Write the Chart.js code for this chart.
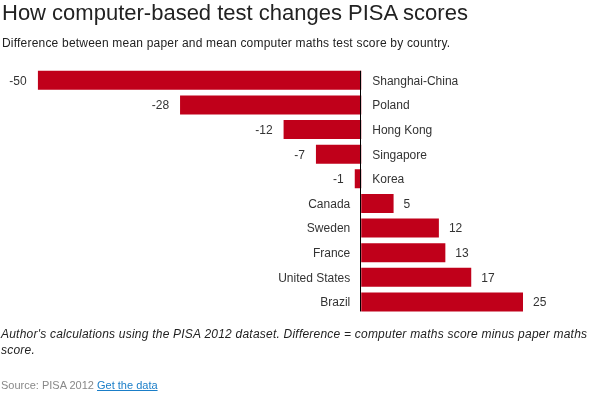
<!DOCTYPE html>
<html><head><meta charset="utf-8">
<script src="https://cdn.jsdelivr.net/npm/chart.js@4"></script>
<style>
html,body{margin:0;padding:0;background:#fff;width:600px;height:399px;overflow:hidden;font-family:"Liberation Sans",Arial,sans-serif;}
#wrap{position:relative;width:600px;height:399px;}
canvas{position:absolute;left:0;top:0;}
.t{position:absolute;left:2px;white-space:nowrap;color:#222;}
#title{top:0;font-size:22px;line-height:normal;}
#sub{top:36px;font-size:12px;line-height:normal;color:#222;letter-spacing:0.2px;}
#note{top:325.5px;font-size:12px;line-height:16px;font-style:italic;color:#222;left:1px;letter-spacing:0.22px;}
#src{top:378.5px;font-size:11px;line-height:normal;color:#888;left:1px;}
#src a{color:#1a7ec8;text-decoration:underline;}
</style></head>
<body><div id="wrap">
<canvas id="c" width="600" height="399"></canvas>
<div class="t" id="title">How computer-based test changes PISA scores</div>
<div class="t" id="sub">Difference between mean paper and mean computer maths test score by country.</div>
<div class="t" id="note">Author's calculations using the PISA 2012 dataset. Difference = computer maths score minus paper maths<br>score.</div>
<div class="t" id="src">Source: PISA 2012 <a href="#">Get the data</a></div>
</div>
<script>
const countries = ["Shanghai-China","Poland","Hong Kong","Singapore","Korea","Canada","Sweden","France","United States","Brazil"];
const differences = [-50,-28,-12,-7,-1,5,12,13,17,25];
const xMin = -50, xMax = 25;

const labelPlugin = {
  id: 'labels',
  afterDatasetsDraw(chart) {
    const ctx = chart.ctx;
    const meta = chart.getDatasetMeta(0);
    const xs = chart.scales.x;
    const zero = xs.getPixelForValue(0);
    ctx.save();
    ctx.font = '12px "Liberation Sans", Arial, sans-serif';
    ctx.fillStyle = '#333';
    ctx.textBaseline = 'alphabetic';
    let top = Infinity, bottom = -Infinity;
    meta.data.forEach((bar, i) => {
      const v = differences[i];
      const y = bar.y + 4.3;
      top = Math.min(top, bar.y - bar.height / 2);
      bottom = Math.max(bottom, bar.y + bar.height / 2);
      if (v < 0) {
        ctx.textAlign = 'right';
        ctx.fillText(String(v), bar.x - 11, y);
        ctx.textAlign = 'left';
        ctx.fillText(countries[i], zero + 11, y);
      } else {
        ctx.textAlign = 'left';
        ctx.fillText(String(v), bar.x + 10, y);
        ctx.textAlign = 'right';
        ctx.fillText(countries[i], zero - 11, y);
      }
    });
    ctx.strokeStyle = '#000';
    ctx.lineWidth = 1;
    ctx.beginPath();
    const zx = Math.round(zero) - 0.5;
    ctx.moveTo(zx, top);
    ctx.lineTo(zx, bottom);
    ctx.stroke();
    ctx.restore();
  }
};

new Chart(document.getElementById('c'), {
  type: 'bar',
  data: {
    labels: countries,
    datasets: [{
      data: differences,
      backgroundColor: '#c0001a',
      borderWidth: 0,
      barPercentage: 0.77,
      categoryPercentage: 1
    }]
  },
  options: {
    indexAxis: 'y',
    responsive: false,
    animation: false,
    devicePixelRatio: 1,
    layout: { padding: { left: 37.7, right: 77, top: 68, bottom: 84.7 } },
    plugins: { legend: { display: false }, tooltip: { enabled: false } },
    scales: {
      x: { type: 'linear', min: xMin, max: xMax, display: false },
      y: { display: false }
    }
  },
  plugins: [labelPlugin]
});
</script>
</body></html>
